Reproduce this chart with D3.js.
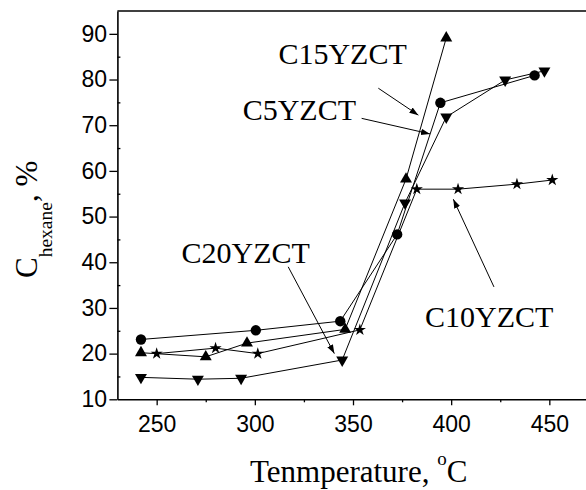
<!DOCTYPE html>
<html>
<head>
<meta charset="utf-8">
<script src="https://cdn.jsdelivr.net/npm/d3@7"></script>
<style>
  body { margin: 0; background: #fff; }
  svg { display: block; }
</style>
</head>
<body>
<div id="chart"></div>
<script>
// series data (temperature, conversion %)
const tempC5 = [242, 300.5, 343.5, 372.5, 394.5, 442.5];
const convC5 = [23.1, 25.1, 27.1, 46.1, 74.9, 80.9];

const tempC10 = [250, 280, 301.5, 353.5, 382.5, 403.5, 433.5, 451.5];
const convC10 = [20, 21.2, 20, 25.2, 56, 56, 57.1, 58];

const tempC15 = [242, 275, 296, 346, 377, 397.5];
const convC15 = [20.2, 19.3, 22.3, 25.3, 58.2, 89.1];

const tempC20 = [242, 271, 293, 344.5, 376.5, 397.5, 427.5, 447.5];
const convC20 = [14.8, 14.4, 14.6, 18.6, 53, 71.8, 79.9, 81.9];

// tick labels
const xTicks = [250, 300, 350, 400, 450];
const xMinor = [275, 325, 375, 425];
const yTicks = [10, 20, 30, 40, 50, 60, 70, 80, 90];
const yMinor = [15, 25, 35, 45, 55, 65, 75, 85];

// annotation labels: text anchor and arrow from/to, in data units
const labelNames = ["C15YZCT", "C5YZCT", "C20YZCT", "C10YZCT"];
const labelPos = [[312, 83.5], [293.8, 71.1], [262.7, 39.8], [386.7, 25.9]];
const arrowFrom = [[362.9, 78.1], [354.4, 71.5], [317, 39], [421.8, 34.6]];
const arrowTo = [[383.3, 72.2], [389.2, 68.1], [340.5, 20], [401.1, 53.8]];

const W = 586, H = 490;

const svg = d3.select("#chart")
    .append("svg")
    .attr("width", W)
    .attr("height", H);

const x = d3.scaleLinear().domain([230, 470]).range([117.4, 588.6]);
const y = d3.scaleLinear().domain([10, 95]).range([399.3, 11]);

// arrow head
svg.append("defs").append("marker")
    .attr("id", "arrow")
    .attr("viewBox", "0 0 10 10")
    .attr("refX", 10).attr("refY", 5)
    .attr("markerWidth", 9).attr("markerHeight", 9)
    .attr("markerUnits", "userSpaceOnUse")
    .attr("orient", "auto")
    .append("path")
    .attr("d", "M0,1.5 L10,5 L0,8.5 Z")
    .attr("fill", "#000");

// axes
const yAxis = svg.append("g")
    .attr("transform", `translate(${x(230)},0)`)
    .call(d3.axisLeft(y).tickValues(yTicks).tickSize(8).tickSizeOuter(0).tickPadding(2.4));
const yMinorAxis = svg.append("g")
    .attr("transform", `translate(${x(230)},0)`)
    .call(d3.axisLeft(y).tickValues(yMinor).tickSize(-3).tickFormat(""));
yMinorAxis.select(".domain").remove();

const xAxis = svg.append("g")
    .attr("transform", `translate(0,${y(10)})`)
    .call(d3.axisBottom(x).tickValues(xTicks).tickSize(6).tickSizeOuter(0).tickPadding(10));
const xMinorAxis = svg.append("g")
    .attr("transform", `translate(0,${y(10)})`)
    .call(d3.axisBottom(x).tickValues(xMinor).tickSize(3).tickFormat(""));
xMinorAxis.select(".domain").remove();

svg.selectAll(".domain").attr("stroke-width", 1.6);
svg.selectAll(".tick line").attr("stroke-width", 1.3);
svg.selectAll(".tick text")
    .style("font-family", "'Liberation Sans', Arial, sans-serif")
    .style("font-size", "23px")
    .attr("fill", "#000");

// top frame line
svg.append("line")
    .attr("x1", x(230)).attr("x2", x(470))
    .attr("y1", y(95)).attr("y2", y(95))
    .attr("stroke", "#000").attr("stroke-width", 1.6);

// series
const series = [
  { t: tempC5, c: convC5, sym: d3.symbolCircle, size: 85, rot: 0 },
  { t: tempC10, c: convC10, sym: d3.symbolStar, size: 46, rot: 0 },
  { t: tempC15, c: convC15, sym: d3.symbolTriangle, size: 62, rot: 0 },
  { t: tempC20, c: convC20, sym: d3.symbolTriangle, size: 62, rot: 180 }
];

const line = d3.line().x(d => x(d[0])).y(d => y(d[1]));

series.forEach(s => {
  const pts = s.t.map((t, i) => [t, s.c[i]]);
  svg.append("path")
    .attr("d", line(pts))
    .attr("fill", "none")
    .attr("stroke", "#000")
    .attr("stroke-width", 1);
  svg.selectAll(null)
    .data(pts)
    .enter()
    .append("path")
    .attr("d", d3.symbol().type(s.sym).size(s.size))
    .attr("transform", d => `translate(${x(d[0])},${y(d[1])}) rotate(${s.rot})`)
    .attr("fill", "#000");
});

// annotations
labelNames.forEach((name, i) => {
  svg.append("text")
    .attr("x", x(labelPos[i][0]))
    .attr("y", y(labelPos[i][1]))
    .style("font-family", "'Liberation Serif', 'Times New Roman', serif")
    .style("font-size", "30px")
    .text(name);
  svg.append("line")
    .attr("x1", x(arrowFrom[i][0])).attr("y1", y(arrowFrom[i][1]))
    .attr("x2", x(arrowTo[i][0])).attr("y2", y(arrowTo[i][1]))
    .attr("stroke", "#000")
    .attr("stroke-width", 1)
    .attr("marker-end", "url(#arrow)");
});

// axis titles
const xTitle = svg.append("text")
    .attr("x", 250).attr("y", 482)
    .style("font-family", "'Liberation Serif', 'Times New Roman', serif")
    .style("font-size", "31px");
xTitle.append("tspan").text("Tenmperature, ");
xTitle.append("tspan").attr("dy", -17).style("font-size", "19px").text("o");
xTitle.append("tspan").attr("dy", 17).text("C");

const yTitle = svg.append("text")
    .attr("transform", "translate(37,278) rotate(-90)")
    .style("font-family", "'Liberation Serif', 'Times New Roman', serif")
    .style("font-size", "31px");
yTitle.append("tspan").text("C");
yTitle.append("tspan").attr("dy", 15).style("font-size", "19.5px").text("hexane");
yTitle.append("tspan").attr("dy", -15).text(", %");
</script>
</body>
</html>
